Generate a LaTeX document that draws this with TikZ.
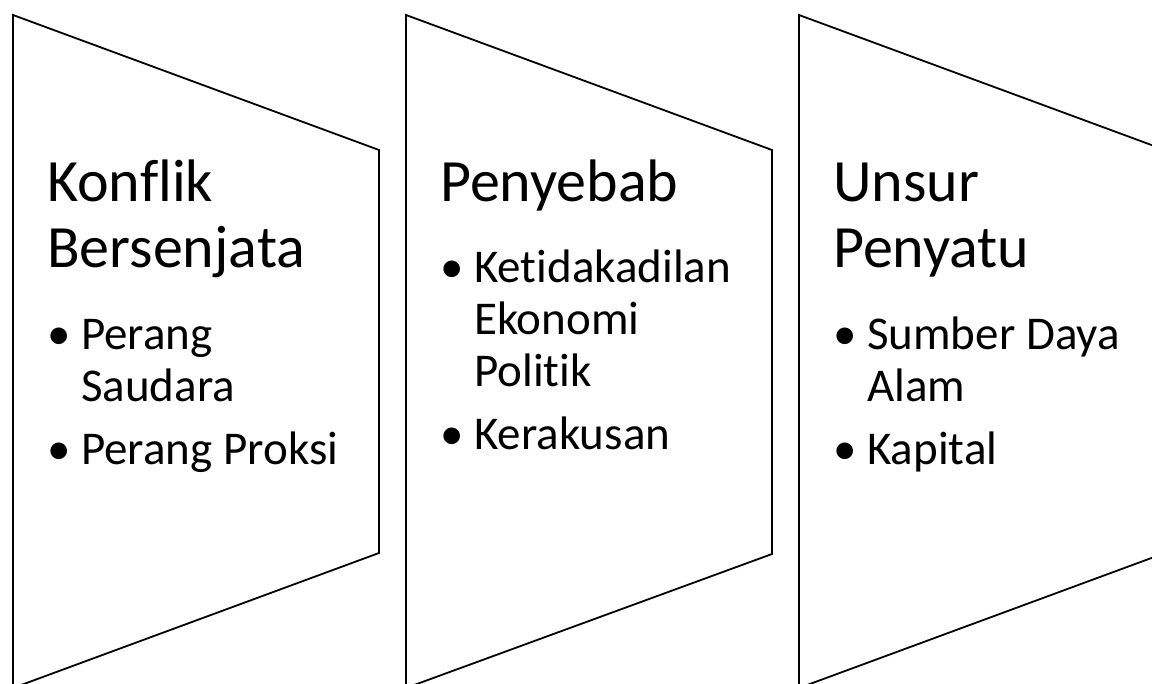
\documentclass[tikz,border=0pt]{standalone}
\usepackage{fontspec}
\setmainfont{Carlito}[Ligatures=CommonOff]
\usepackage{tikz}
\usetikzlibrary{positioning}

\begin{document}
\begin{tikzpicture}[
    x=1pt, y=-1pt,
    panel/.style={draw=black, line width=1.8pt, line join=miter},
    heading/.style={anchor=base west, inner sep=0pt, text width=320pt, align=flush left, font=\fontsize{60}{66}\selectfont},
    bulletitem/.style={anchor=base west, inner sep=0pt, text width=290pt, align=flush left, font=\fontsize{47}{52}\selectfont},
]
\useasboundingbox (0,0) rectangle (1152,684);
\clip (0,0) rectangle (1152,684);

% Panel 1
\draw[panel] (13,15) -- (379,150) -- (379,553) -- (13,688) -- cycle;
\node[heading] (konflik) at (47,202) {Konflik\\Bersenjata};
\node[bulletitem] (saudara) at (81,350) {\llap{\makebox[34pt][l]{\textbullet}}Perang\\Saudara};
\node[bulletitem] (proksi) at (81,465) {\llap{\makebox[34pt][l]{\textbullet}}Perang Proksi};

% Panel 2
\draw[panel] (406,15) -- (772,150) -- (772,554) -- (406,688) -- cycle;
\node[heading] (penyebab) at (440,202) {Penyebab};
\node[bulletitem] (ketidakadilan) at (474,283) {\llap{\makebox[34pt][l]{\textbullet}}Ketidakadilan\\Ekonomi\\Politik};
\node[bulletitem] (kerakusan) at (474,450) {\llap{\makebox[34pt][l]{\textbullet}}Kerakusan};

% Panel 3
\draw[panel] (799,15) -- (1165,150) -- (1165,553) -- (799,688) -- cycle;
\node[heading] (unsur) at (833,202) {Unsur\\Penyatu};
\node[bulletitem] (sumber) at (867,350) {\llap{\makebox[34pt][l]{\textbullet}}Sumber Daya\\Alam};
\node[bulletitem] (kapital) at (867,465) {\llap{\makebox[34pt][l]{\textbullet}}Kapital};

\end{tikzpicture}
\end{document}
